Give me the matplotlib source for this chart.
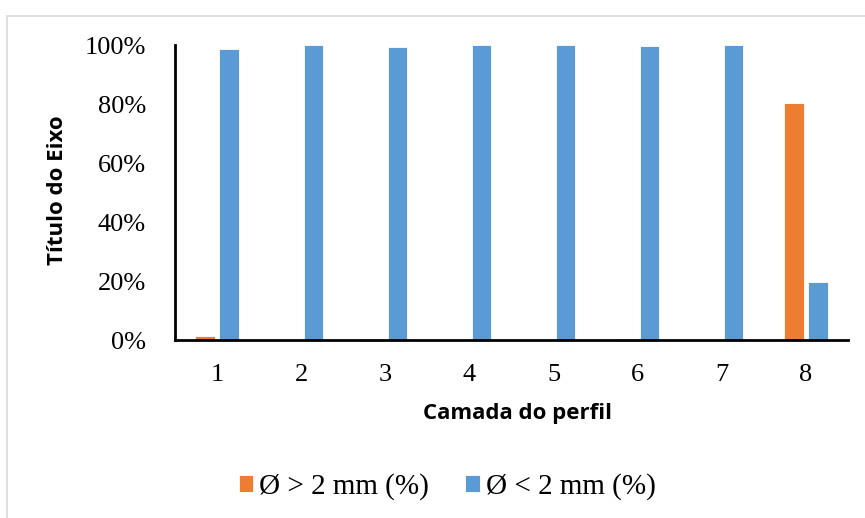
import matplotlib
matplotlib.use('Agg')
import matplotlib.pyplot as plt
import numpy as np
from matplotlib.patches import Rectangle
from matplotlib.ticker import FuncFormatter

# dados
camadas = ['1', '2', '3', '4', '5', '6', '7', '8']
maior_2mm = [1.2, 0.0, 0.3, 0.0, 0.0, 0.2, 0.0, 80.3]
menor_2mm = [98.8, 100.0, 99.4, 100.0, 100.0, 99.6, 99.9, 19.7]

cor_laranja = '#ED7D31'
cor_azul = '#5B9BD5'

fig = plt.figure(figsize=(8.65, 5.18), dpi=100)
ax = fig.add_axes([0.2023, 0.3436, 0.7780, 0.5695])

x = np.arange(len(camadas))
w = 0.23
ax.bar(x - 0.143, maior_2mm, w, color=cor_laranja, edgecolor='white', linewidth=0.6,
       label='Ø > 2 mm (%)')
ax.bar(x + 0.143, menor_2mm, w, color=cor_azul, edgecolor='white', linewidth=0.6,
       label='Ø < 2 mm (%)')

ax.set_xlim(-0.5, len(camadas) - 0.5)
ax.set_ylim(0, 100)
ax.set_yticks(np.arange(0, 101, 20))
ax.yaxis.set_major_formatter(FuncFormatter(lambda v, p: f'{v:.0f}%'))
ax.set_xticks(x)
ax.set_xticklabels(camadas)

for lab in ax.get_xticklabels() + ax.get_yticklabels():
    lab.set_family('Liberation Serif')
    lab.set_fontsize(19)
ax.tick_params(axis='both', length=0)
ax.tick_params(axis='x', pad=17)
ax.tick_params(axis='y', pad=21)

for s in ['top', 'right']:
    ax.spines[s].set_visible(False)
for s in ['left', 'bottom']:
    ax.spines[s].set_linewidth(2)
    ax.spines[s].set_color('black')

fig.text(0.067, 0.633, 'Título do Eixo', rotation=90, ha='center', va='center',
         fontsize=16, fontweight='bold', family='Open Sans')
fig.text(0.598, 0.201, 'Camada do perfil', ha='center', va='center',
         fontsize=16, fontweight='bold', family='Open Sans')

leg = fig.legend(loc='center', bbox_to_anchor=(0.517, 0.060), ncol=2, frameon=False,
                 prop={'family': 'Liberation Serif', 'size': 21},
                 handlelength=0.5, handleheight=0.5, handletextpad=0.2,
                 columnspacing=1.25)

# moldura cinza do gráfico
fig.patches.append(Rectangle((7 / 865, -0.02), 1.0, 0.995 - 13 / 518 + 0.02,
                             transform=fig.transFigure, fill=False,
                             edgecolor='#D9D9D9', linewidth=1.2))

fig.savefig('out.png', dpi=100)
